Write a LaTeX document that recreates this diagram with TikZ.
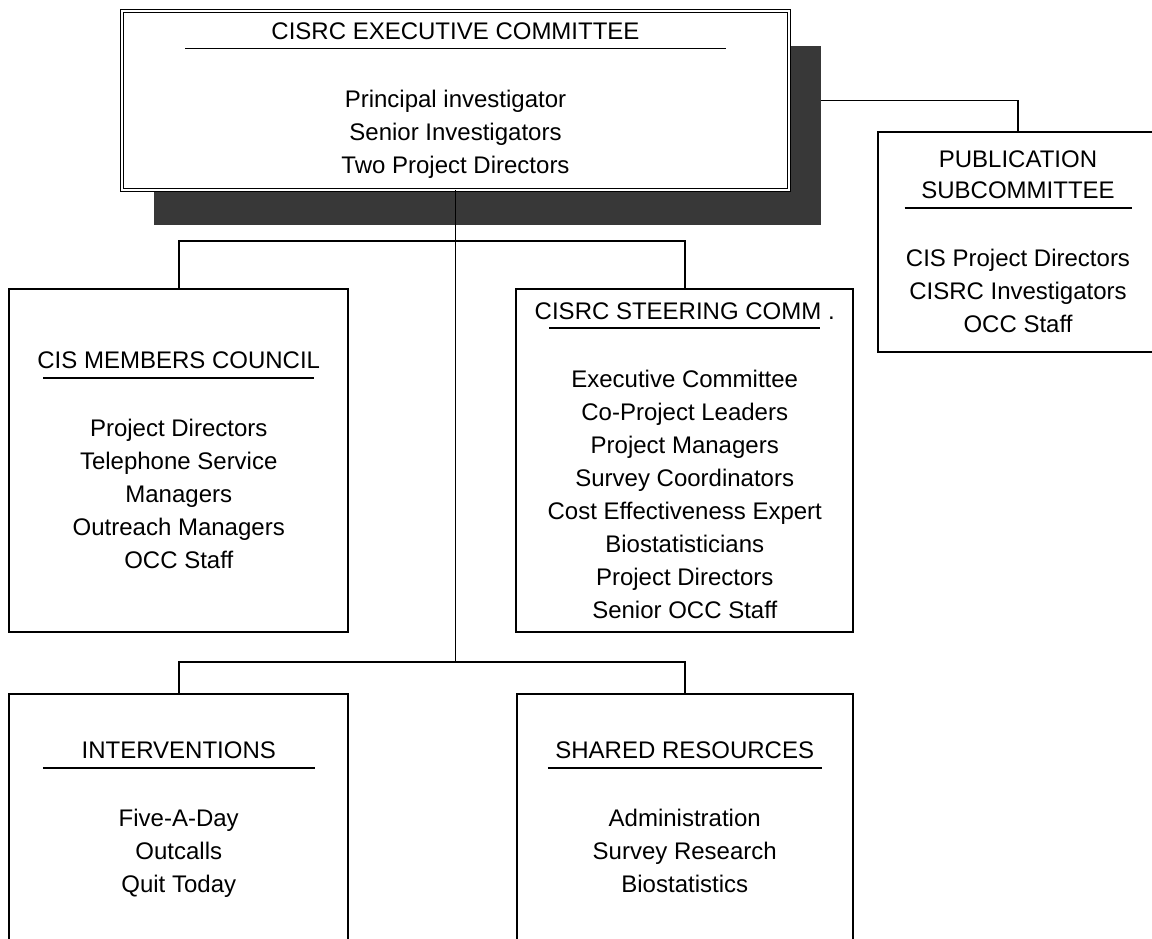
\documentclass[tikz,border=0pt]{standalone}
\usepackage{fontspec}
\setmainfont{Liberation Sans}
\usetikzlibrary{positioning}
\usetikzlibrary{shadows}

\tikzset{
	unit/.style={draw, rectangle, line width=1.8pt, fill=white, inner sep=0pt, outer sep=0pt,
		align=center, font=\fontsize{24}{33}\selectfont},
	board/.style={unit, line width=1.2pt, double, double distance=2.2pt,
		drop shadow={shadow xshift=32pt, shadow yshift=-35pt, fill=black!78, opacity=1}},
	link/.style={line width=1.8pt},
}
% title, rule under it, then the member list
\newcommand{\heading}[2]{#2\\[-23pt]\rule{#1}{1.8pt}\\[25pt]}

\begin{document}
\begin{tikzpicture}[x=1pt, y=-1pt]
	\useasboundingbox (0,0) rectangle (1152,938);

	\node[board, minimum width=667pt, minimum height=179pt] (executive) at (455.5,100.5)
	{\heading{541pt}{CISRC EXECUTIVE COMMITTEE}Principal investigator\\Senior Investigators\\Two Project Directors};
	\node[unit, minimum width=280pt, minimum height=220pt] (publication) [below right=121pt and 89pt of executive.north east]
	{PUBLICATION\\[-2pt]\heading{227pt}{SUBCOMMITTEE}CIS Project Directors\\CISRC Investigators\\OCC Staff};

	\node[unit, minimum width=339pt, minimum height=343pt] (members) at (178.75,460.5)
	{\heading{271pt}{CIS MEMBERS COUNCIL}Project Directors\\Telephone Service\\Managers\\Outreach Managers\\OCC Staff};
	\node[unit, minimum width=337pt, minimum height=343pt] (steering) [right=168pt of members]
	{\heading{271pt}{CISRC STEERING COMM .}Executive Committee\\Co-Project Leaders\\Project Managers\\Survey Coordinators\\Cost Effectiveness Expert\\Biostatisticians\\Project Directors\\Senior OCC Staff};

	\node[unit, minimum width=339pt, minimum height=252pt] (interventions) [below=62pt of members]
	{\heading{272pt}{INTERVENTIONS}Five-A-Day\\Outcalls\\Quit Today};
	\node[unit, minimum width=336pt, minimum height=247pt] (shared) [below=62pt of steering]
	{\heading{274pt}{SHARED RESOURCES}Administration\\Survey Research\\Biostatistics};

	\coordinate (lowbar) at ([yshift=32pt]interventions.north);
	\draw[link] (executive.south) -- (executive.south |- lowbar);
	\draw[link] (members.north) -- ++(0pt,48pt) -| (steering.north);
	\draw[link] (interventions.north) -- ++(0pt,32pt) -| (shared.north);
	\draw[link] ([xshift=32pt]executive.east) -| (publication.north);
\end{tikzpicture}
\end{document}
